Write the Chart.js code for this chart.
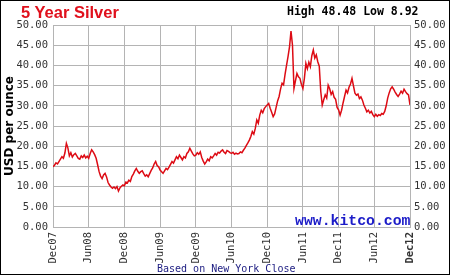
<!DOCTYPE html>
<html>
<head>
<meta charset="utf-8">
<title>5 Year Silver</title>
<script src="https://cdn.jsdelivr.net/npm/chart.js@4"></script>
<style>
  body { margin: 0; background: #fff; }
  #caja { position: relative; width: 450px; height: 275px; overflow: hidden; background: #fff; }
  #grafico { position: absolute; left: 0; top: 0; }
  #marco { position: absolute; left: 0; top: 0; width: 450px; height: 275px; box-sizing: border-box; border: 1px solid #000; pointer-events: none; }
  .texto { position: absolute; white-space: nowrap; margin: 0; }
  #titulo { left: 21px; top: 3px; font: bold 16.5px/19px "Liberation Sans", Arial, sans-serif; color: #e0101c; }
  #maxmin { left: 287px; top: 4.5px; font: bold 11.5px/13px "DejaVu Sans Mono", monospace; color: #000; }
  #kitco { left: 295px; top: 214px; font: bold 14.8px/15px "Liberation Mono", monospace; color: #1c1cc8; }
  #fuente { left: 157px; top: 262.5px; font: 10px/12px "DejaVu Sans Mono", monospace; color: #1a1a80; }
</style>
</head>
<body>
<div id="caja">
  <canvas id="grafico" width="450" height="275"></canvas>
  <div class="texto" id="titulo">5 Year Silver</div>
  <div class="texto" id="maxmin">High 48.48 Low 8.92</div>
  <div class="texto" id="kitco">www.kitco.com</div>
  <div class="texto" id="fuente">Based on New York Close</div>
  <div id="marco"></div>
</div>
<script>
// ---- DATOS: etiquetas del eje X (cada 6 meses) ----
const etiquetas = ['Dec07', 'Jun08', 'Dec08', 'Jun09', 'Dec09', 'Jun10', 'Dec10', 'Jun11', 'Dec11', 'Jun12', 'Dec12']

// ---- DATOS: ticks del eje Y ----
const ticksY = [0, 5, 10, 15, 20, 25, 30, 35, 40, 45, 50]

// ---- DATOS: precio semanal de la plata (USD por onza), 4 por mes desde Dec07 ----
const valores = [
  14.9, 15.3, 15.9, 15.6, 16.2, 16.8, 17.4, 17.0, 18.3, 20.7, 19.6, 17.6, 18.4, 17.3, 17.9, 18.2, 17.6, 17.0, 16.8, 17.6, 17.2, 17.8, 17.1, 17.5,
  17.0, 18.2, 19.1, 18.6, 17.9, 17.0, 15.4, 13.7, 12.6, 12.0, 12.9, 13.3, 12.4, 11.0, 10.4, 9.9, 9.6, 9.9, 9.5, 10.0, 8.92, 9.7, 10.1, 10.4,
  10.2, 11.1, 10.9, 11.6, 11.3, 12.5, 13.1, 13.9, 14.5, 13.8, 13.3, 13.7, 13.9, 13.2, 12.6, 12.9, 12.4, 13.2, 14.0, 14.6, 15.6, 16.2, 15.2, 14.9,
  14.1, 13.7, 13.3, 13.9, 14.5, 14.2, 14.8, 15.5, 16.2, 15.8, 16.6, 17.4, 16.9, 17.8, 17.2, 16.6, 17.4, 17.1, 18.2, 18.6, 19.5, 18.8, 18.1, 17.6,
  17.8, 18.4, 18.0, 18.6, 17.2, 16.3, 15.6, 16.1, 16.8, 16.4, 17.4, 17.1, 17.6, 18.2, 17.8, 18.5, 18.3, 18.8, 19.1, 18.5, 18.2, 18.9, 18.7, 18.4,
  18.2, 18.5, 18.0, 18.3, 18.1, 18.2, 18.6, 18.4, 19.0, 19.5, 20.2, 20.8, 21.5, 22.4, 23.6, 23.0, 24.4, 26.5, 25.7, 27.7, 28.9, 28.3, 29.3, 29.8,
  30.2, 30.6, 29.4, 28.4, 27.3, 28.0, 29.6, 31.2, 32.3, 34.2, 35.6, 35.2, 37.8, 40.0, 42.2, 44.6, 48.48, 45.0, 34.3, 36.2, 38.0, 37.2, 36.8, 35.3,
  34.3, 36.8, 40.5, 39.2, 40.8, 39.7, 42.4, 43.8, 41.8, 42.6, 40.9, 39.8, 33.6, 30.2, 31.5, 32.7, 31.9, 35.1, 34.2, 32.8, 33.5, 32.1, 31.6, 29.6,
  29.0, 27.7, 28.9, 30.7, 32.3, 33.9, 33.2, 34.6, 35.4, 36.8, 34.9, 33.1, 32.6, 32.9, 31.8, 32.2, 31.4, 30.2, 29.4, 28.5, 28.9, 28.2, 28.6, 27.8,
  27.3, 27.9, 27.4, 27.8, 27.6, 28.1, 27.9, 28.6, 30.0, 31.9, 33.2, 34.2, 34.7, 34.1, 33.4, 32.8, 32.3, 32.9, 33.6, 33.1, 34.1, 33.5, 33.0, 32.7,
  30.2
]

// ---- ESTILOS ----
const colorGrilla = '#b4b4b4'
const colorTicks = '#333'
const fuenteTicks = { family: '"DejaVu Sans Mono", monospace', size: 10.5 }

// ---- PUNTOS: x en meses desde Dec07 ----
const puntos = valores.map((v, i) => ({ x: i / 4, y: v }))

// ---- EJE Y (izquierda y derecha comparten config) ----
function ejeY(posicion, ancho) {
  return {
    type: 'linear',
    position: posicion,
    min: ticksY[0],
    max: ticksY[ticksY.length - 1],
    afterBuildTicks: (eje) => { eje.ticks = ticksY.map(v => ({ value: v })) },
    afterFit: (eje) => { eje.width = ancho },
    grid: { color: colorGrilla, drawTicks: false, drawOnChartArea: posicion === 'left' },
    border: { color: colorGrilla },
    ticks: {
      color: colorTicks,
      font: fuenteTicks,
      padding: posicion === 'left' ? 5 : 4,
      callback: (v) => Number(v).toFixed(2)
    }
  }
}

const ejeIzq = ejeY('left', 53)
ejeIzq.title = {
  display: true,
  text: 'USD per ounce',
  color: '#000',
  font: { family: '"DejaVu Sans", sans-serif', size: 12, weight: 'bold' },
  padding: { top: 3, bottom: 0 }
}

new Chart(document.querySelector('#grafico'), {
  type: 'line',
  data: {
    datasets: [{
      data: puntos,
      borderColor: '#dd0b14',
      borderWidth: 1.5,
      pointRadius: 0,
      tension: 0
    }]
  },
  options: {
    responsive: false,
    animation: false,
    events: [],
    layout: { padding: { top: 25, left: 0, right: 0, bottom: 0 } },
    plugins: { legend: { display: false }, tooltip: { enabled: false } },
    scales: {
      x: {
        type: 'linear',
        min: 0,
        max: 60,
        afterBuildTicks: (eje) => { eje.ticks = etiquetas.map((e, i) => ({ value: i * 6 })) },
        afterFit: (eje) => { eje.height = 48 },
        grid: { color: colorGrilla, drawTicks: false },
        border: { color: colorGrilla },
        ticks: {
          color: colorTicks,
          autoSkip: false,
          minRotation: 90,
          maxRotation: 90,
          padding: 5,
          font: (ctx) => ({ ...fuenteTicks, weight: ctx.index === etiquetas.length - 1 ? 'bold' : 'normal' }),
          callback: (v) => etiquetas[Math.round(v / 6)]
        }
      },
      y: ejeIzq,
      y2: ejeY('right', 40)
    }
  }
})
</script>
</body>
</html>
